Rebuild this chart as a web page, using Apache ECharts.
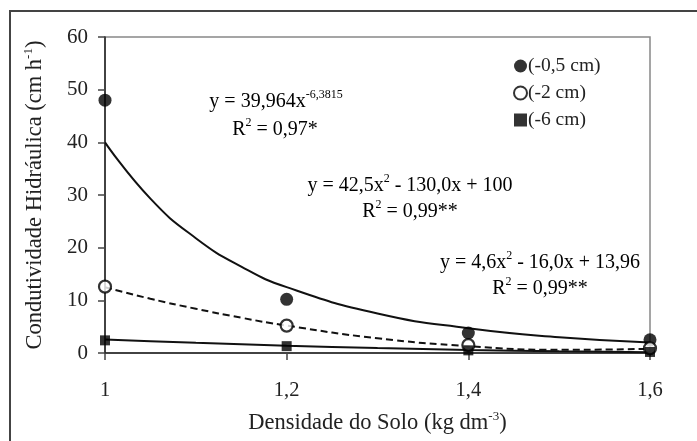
<!DOCTYPE html>
<html><head><meta charset="utf-8">
<script src="https://cdn.jsdelivr.net/npm/echarts@6/dist/echarts.min.js"></script>
<style>html,body{margin:0;padding:0;background:#fff}#c{width:697px;height:441px}</style>
</head><body><div id="c"></div>
<script>
// Observed data (x = soil density, y = hydraulic conductivity)
const densities = [1, 1.2, 1.4, 1.6];
const obs05 = [48, 10.2, 3.8, 2.5];
const obs2 = [12.6, 5.2, 1.5, 0.9];
const obs6 = [2.4, 1.3, 0.5, 0.2];
// Fitted trend curves
const curveX = [1, 1.05, 1.1, 1.15, 1.2, 1.3, 1.4, 1.5, 1.6];
const curve05 = [40, 29.3, 21.8, 16.4, 12.5, 7.5, 4.7, 3.0, 2.0];
const curve2 = [12.5, 10.3, 8.4, 6.7, 5.2, 2.8, 1.3, 0.6, 0.8];
const curve6 = [2.56, 2.24, 1.93, 1.65, 1.38, 0.93, 0.58, 0.31, 0.14];
const seriesNames = ['(-0,5 cm)', '(-2 cm)', '(-6 cm)'];
const yTicks = [0, 10, 20, 30, 40, 50, 60];

const FF = '"Liberation Serif", "Times New Roman", serif';
const pair = (xs, ys) => xs.map((x, i) => [x, ys[i]]);
const richEq = {
  m: {fontSize: 20, lineHeight: 22, verticalAlign: 'bottom', fontFamily: FF, color: '#222'},
  s: {fontSize: 12, lineHeight: 12, verticalAlign: 'bottom', padding: [0, 0, 11, 0], fontFamily: FF, color: '#222'}
};
const richAx = {
  m: {fontSize: 22.5, lineHeight: 24, verticalAlign: 'bottom', fontFamily: FF, color: '#222'},
  s: {fontSize: 13, lineHeight: 13, verticalAlign: 'bottom', padding: [0, 0, 12, 0], fontFamily: FF, color: '#222'}
};

const chart = echarts.init(document.getElementById('c'));
chart.setOption({
  animation: false,
  backgroundColor: '#fff',
  grid: {left: 105, right: 47, top: 37, bottom: 88, show: true, borderColor: '#888', borderWidth: 1.5, backgroundColor: 'transparent'},
  xAxis: {
    type: 'value', min: 1, max: 1.6, interval: 0.2,
    splitLine: {show: false},
    axisLine: {lineStyle: {color: '#222', width: 1.5}},
    axisTick: {show: true, length: 7, lineStyle: {color: '#444', width: 1.5}},
    axisLabel: {margin: 27, fontSize: 20.5, fontFamily: FF, color: '#222', formatter: v => String(+v.toFixed(1)).replace('.', ',')},
    name: '{m|Densidade do Solo (kg dm}{s|-3}{m|)}', nameLocation: 'middle', nameGap: 58,
    nameTextStyle: {rich: richAx}
  },
  yAxis: {
    type: 'value', min: yTicks[0], max: yTicks[yTicks.length - 1], interval: 10,
    splitLine: {show: false},
    axisLine: {show: true, lineStyle: {color: '#222', width: 1.5}},
    axisTick: {show: true, length: 7, lineStyle: {color: '#444', width: 1.5}},
    axisLabel: {margin: 17, fontSize: 21, fontFamily: FF, color: '#222'},
    name: '{m|Condutividade Hidráulica (cm h}{s|-1}{m|)}', nameLocation: 'middle', nameGap: 58, nameRotate: 90,
    nameTextStyle: {rich: richAx}
  },
  legend: {
    data: seriesNames, orient: 'vertical', left: 508, top: 51, itemGap: 7,
    itemWidth: 13, itemHeight: 13,
    textStyle: {fontSize: 19.5, fontFamily: FF, color: '#222', padding: [0, 0, 0, -4]}
  },
  series: [
    {type: 'line', data: pair(curveX, curve05), smooth: true, symbol: 'none', lineStyle: {color: '#111', width: 2}, z: 2},
    {type: 'line', data: pair(curveX, curve2), smooth: true, symbol: 'none', lineStyle: {color: '#111', width: 2, type: [7, 4]}, z: 2},
    {type: 'line', data: pair(curveX, curve6), smooth: true, symbol: 'none', lineStyle: {color: '#111', width: 2}, z: 2},
    {name: seriesNames[0], type: 'scatter', data: pair(densities, obs05), symbol: 'circle', symbolSize: 13, itemStyle: {color: '#000'}, z: 5},
    {name: seriesNames[1], type: 'scatter', data: pair(densities, obs2), symbol: 'circle', symbolSize: 12, itemStyle: {color: '#fff', borderColor: '#000', borderWidth: 2.2}, z: 6},
    {name: seriesNames[2], type: 'scatter', data: pair(densities, obs6), symbol: 'rect', symbolSize: 10, itemStyle: {color: '#000'}, z: 7}
  ],
  graphic: [
    {type: 'rect', shape: {x: 10, y: 11, width: 720, height: 460}, style: {fill: 'none', stroke: '#444', lineWidth: 2}, silent: true},
    {type: 'text', x: 276, y: 101, style: {text: '{m|y = 39,964x}{s|-6,3815}', rich: richEq, align: 'center', verticalAlign: 'middle'}},
    {type: 'text', x: 275, y: 129, style: {text: '{m|R}{s|2}{m| = 0,97*}', rich: richEq, align: 'center', verticalAlign: 'middle'}},
    {type: 'text', x: 410, y: 185, style: {text: '{m|y = 42,5x}{s|2}{m| - 130,0x + 100}', rich: richEq, align: 'center', verticalAlign: 'middle'}},
    {type: 'text', x: 410, y: 211, style: {text: '{m|R}{s|2}{m| = 0,99**}', rich: richEq, align: 'center', verticalAlign: 'middle'}},
    {type: 'text', x: 540, y: 262, style: {text: '{m|y = 4,6x}{s|2}{m| - 16,0x + 13,96}', rich: richEq, align: 'center', verticalAlign: 'middle'}},
    {type: 'text', x: 540, y: 288, style: {text: '{m|R}{s|2}{m| = 0,99**}', rich: richEq, align: 'center', verticalAlign: 'middle'}}
  ]
});
</script></body></html>
